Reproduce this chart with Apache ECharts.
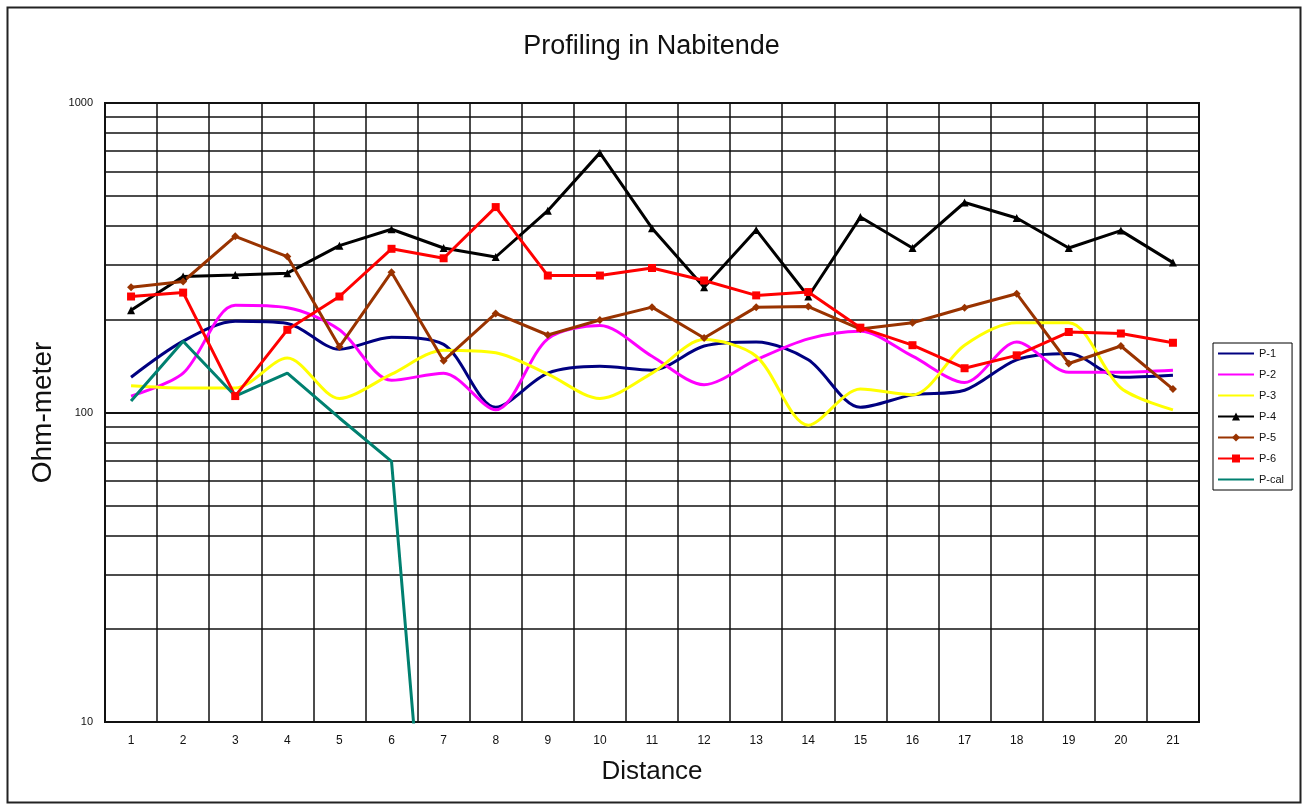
<!DOCTYPE html>
<html>
<head>
<meta charset="utf-8">
<script src="https://cdn.jsdelivr.net/npm/echarts@6/dist/echarts.min.js"></script>
<style>
  body { margin: 0; background: #fff; }
  #main { width: 1303px; height: 805px; }
</style>
</head>
<body>
<div id="main"></div>
<script>
  var categories = ['1','2','3','4','5','6','7','8','9','10','11','12','13','14','15','16','17','18','19','20','21'];
  var p1 = [130,170,197,194,160,175,166,104,134,141,137,164,169,148,104,114,118,148,155,130,132];
  var p2 = [113,134,222,218,185,127,134,102,173,191,152,123,148,173,183,152,125,169,135,135,137];
  var p3 = [122,120,120,150,111,133,159,156,133,111,134,172,152,91,119,114,165,195,195,120,102];
  var p4 = [214,275,278,282,346,391,340,318,449,690,394,254,389,237,428,340,477,425,340,387,305];
  var p5 = [254,265,371,319,163,284,147,209,178,199,219,174,219,220,186,195,218,242,144,164,119];
  var p6 = [237,244,113,185,237,338,315,461,277,277,293,267,239,245,188,165,139,153,182,180,168];
  var pcal = [109,170,113,134,96,69.5,0.7];
  // minor log gridlines (2..9 per decade)
  var minorLines = [20,30,40,50,60,70,80,90,200,300,400,500,600,700,800,900];

  var chart = echarts.init(document.getElementById('main'));
  var font = 'Liberation Sans';
  var noMark = { opacity: 0 };

  var option = {
    animation: false,
    textStyle: { fontFamily: font },
    title: {
      text: 'Profiling in Nabitende',
      left: 'center',
      top: 28,
      textStyle: { fontSize: 27, fontWeight: 'normal', color: '#111', fontFamily: font }
    },
    graphic: [{
      type: 'rect',
      left: 5, top: 5,
      shape: { width: 1293, height: 795 },
      style: { fill: 'none', stroke: '#222', lineWidth: 2 },
      silent: true
    }],
    legend: {
      orient: 'vertical',
      left: 1213,
      top: 343,
      padding: [5, 8, 5, 4],
      itemWidth: 36,
      itemHeight: 10,
      itemGap: 10,
      borderColor: '#000',
      borderWidth: 1,
      textStyle: { fontSize: 11, color: '#111', fontFamily: font },
      data: [
        { name: 'P-1', itemStyle: noMark },
        { name: 'P-2', itemStyle: noMark },
        { name: 'P-3', itemStyle: noMark },
        'P-4', 'P-5', 'P-6',
        { name: 'P-cal', itemStyle: noMark }
      ]
    },
    grid: {
      left: 105, right: 104, top: 103, bottom: 83,
      show: true, borderColor: '#111', borderWidth: 2
    },
    xAxis: {
      type: 'category',
      data: categories,
      boundaryGap: true,
      name: 'Distance',
      nameLocation: 'middle',
      nameGap: 37,
      nameTextStyle: { fontSize: 26, color: '#111', fontFamily: font },
      axisLine: { lineStyle: { color: '#111', width: 2 } },
      axisTick: { show: false },
      axisLabel: { fontSize: 12, color: '#111', margin: 13, interval: 0 },
      splitLine: { show: true, interval: 0, lineStyle: { color: '#111', width: 1.5 } }
    },
    yAxis: {
      type: 'log',
      logBase: 10,
      min: 10,
      max: 1000,
      name: 'Ohm-meter',
      nameLocation: 'middle',
      nameGap: 46,
      nameTextStyle: { fontSize: 28, color: '#111', fontFamily: font },
      axisLine: { show: true, lineStyle: { color: '#111', width: 2 } },
      axisTick: { show: false },
      axisLabel: {
        fontSize: 11, color: '#111', margin: 12,
        formatter: function (v) { return String(Math.round(v)); }
      },
      splitLine: { show: true, lineStyle: { color: '#111', width: 2 } }
    },
    series: [
      {
        name: 'P-1', type: 'line', data: p1, smooth: 0.3, symbol: 'none',
        lineStyle: { color: '#000080', width: 3 }, itemStyle: { color: '#000080' },
        markLine: {
          silent: true, z: 1, symbol: 'none', animation: false,
          label: { show: false },
          lineStyle: { color: '#111', width: 1.5, type: 'solid' },
          data: minorLines.map(function (v) { return { yAxis: v }; })
        }
      },
      {
        name: 'P-2', type: 'line', data: p2, smooth: 0.3, symbol: 'none',
        lineStyle: { color: '#ff00ff', width: 3 }, itemStyle: { color: '#ff00ff' }
      },
      {
        name: 'P-3', type: 'line', data: p3, smooth: 0.3, symbol: 'none',
        lineStyle: { color: '#ffff00', width: 3 }, itemStyle: { color: '#ffff00' }
      },
      {
        name: 'P-4', type: 'line', data: p4, symbol: 'triangle', symbolSize: 8,
        lineStyle: { color: '#000000', width: 3 }, itemStyle: { color: '#000000' }
      },
      {
        name: 'P-5', type: 'line', data: p5, symbol: 'diamond', symbolSize: 8,
        lineStyle: { color: '#993300', width: 3 }, itemStyle: { color: '#993300' }
      },
      {
        name: 'P-6', type: 'line', data: p6, symbol: 'rect', symbolSize: 8,
        lineStyle: { color: '#ff0000', width: 3 }, itemStyle: { color: '#ff0000' }
      },
      {
        name: 'P-cal', type: 'line', data: pcal, symbol: 'none',
        lineStyle: { color: '#008070', width: 3 }, itemStyle: { color: '#008070' }
      }
    ]
  };
  option && chart.setOption(option);
</script>
</body>
</html>
